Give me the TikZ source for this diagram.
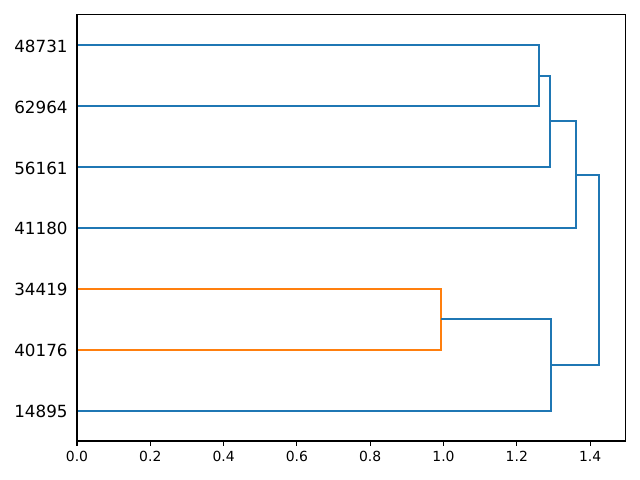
\documentclass[tikz,border=0pt]{standalone}
\usepackage{fontspec}
\setmainfont{DejaVu Sans}
\definecolor{tabblue}{HTML}{1F77B4}
\definecolor{taborange}{HTML}{FF7F0E}
\tikzset{
  link/.style={line width=1.48pt,line cap=butt,line join=miter},
  xlab/.style={anchor=base,inner sep=0pt,font=\fontsize{9.9}{12}\selectfont},
  ylab/.style={anchor=base east,inner sep=0pt,font=\fontsize{11.9}{14}\selectfont}
}

\begin{document}
\begin{tikzpicture}[x=0.025cm,y=0.025cm]
\useasboundingbox (0,0) rectangle (640,480);
\begin{scope}[shift={(77,39)},x=9.16cm,y=0.15215cm]
% leaves and merges
\draw[link,tabblue] (0,65) -- (1.260,65) -- (1.260,55) -- (0,55);
\draw[link,tabblue] (1.260,60) -- (1.291,60) -- (1.291,45) -- (0,45);
\draw[link,tabblue] (1.291,52.5) -- (1.361,52.5) -- (1.361,35) -- (0,35);
\draw[link,taborange] (0,25) -- (0.993,25) -- (0.993,15) -- (0,15);
\draw[link,tabblue] (0.993,20) -- (1.293,20) -- (1.293,5) -- (0,5);
\draw[link,tabblue] (1.361,43.75) -- (1.425,43.75) -- (1.425,12.5) -- (1.293,12.5);
% leaf labels
\foreach \v/\name in {65/48731,55/62964,45/56161,35/41180,25/34419,15/40176,5/14895}
  \node[ylab] (leaf\name) at ([yshift=-5pt]-0.025,\v) {\name};
% x axis ticks
\foreach \t in {0.0,0.2,0.4,0.6,0.8,1.0,1.2,1.4} {
  \draw[line width=0.79pt] (\t,0) -- ++(0,-3.46pt);
  \node[xlab] (tick\t) at ([yshift=-14.5pt]\t,0) {\t};
}
% frame
\draw[line width=0.79pt] (0,0) rectangle (1.496,70);
\end{scope}
\end{tikzpicture}
\end{document}
